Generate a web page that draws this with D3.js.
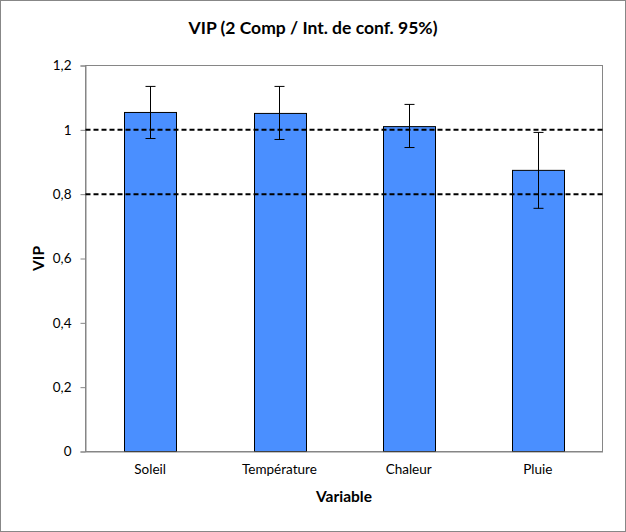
<!DOCTYPE html>
<html><head><meta charset="utf-8">
<script src="https://cdn.jsdelivr.net/npm/d3@7"></script>
<style>body{margin:0;background:#fff}svg{display:block}text{font-family:Lato,"Open Sans",sans-serif}</style>
</head><body>
<script>
const categories = ["Soleil", "Température", "Chaleur", "Pluie"];
const vipValues = [1.054, 1.051, 1.010, 0.874];
const ciLower = [0.973, 0.970, 0.945, 0.756];
const ciUpper = [1.135, 1.135, 1.079, 0.992];
const yTicks = [0, 0.2, 0.4, 0.6, 0.8, 1, 1.2];
const refLines = [0.8, 1];

const W = 626, H = 532;
const m = {left: 85.5, right: 602.5, top: 65.5, bottom: 451.5};
const svg = d3.select("body").append("svg").attr("width", W).attr("height", H);

svg.append("rect").attr("x", 0.5).attr("y", 0.5).attr("width", W - 1).attr("height", H - 1)
  .attr("fill", "#fff").attr("stroke", "#878787");

const x = d3.scaleBand().domain(categories).range([m.left, m.right]).paddingInner(0.6).paddingOuter(0.3);
const y = d3.scaleLinear().domain([0, 1.2]).range([m.bottom, m.top]);
const fmt = d => String(+d.toFixed(1)).replace(".", ",");

// plot frame
svg.append("rect").attr("x", m.left).attr("y", m.top).attr("width", m.right - m.left).attr("height", m.bottom - m.top)
  .attr("fill", "none").attr("stroke", "#868686");

// bars
svg.append("g").selectAll("rect").data(categories).join("rect")
  .attr("x", d => Math.round(x(d)) + 0.5)
  .attr("y", (d, i) => y(vipValues[i]))
  .attr("width", Math.round(x.bandwidth()))
  .attr("height", (d, i) => y(0) - y(vipValues[i]))
  .attr("fill", "#4A8FFF").attr("stroke", "#000").attr("stroke-width", 1);

// y axis
const yAxis = svg.append("g").attr("transform", `translate(${m.left},0)`)
  .call(d3.axisLeft(y).tickValues(yTicks).tickFormat(fmt).tickSize(5).tickPadding(9));
yAxis.select(".domain").attr("stroke", "#868686");
yAxis.selectAll(".tick line").attr("stroke", "#868686");
yAxis.selectAll("text").attr("font-size", 13.5).attr("fill", "#000").attr("font-family", "Lato");

// x axis
const xAxis = svg.append("g").attr("transform", `translate(0,${m.bottom})`)
  .call(d3.axisBottom(x).tickSize(0).tickPadding(13));
xAxis.select(".domain").attr("stroke", "#868686");
xAxis.selectAll("text").attr("font-size", 13.5).attr("fill", "#000").attr("font-family", "Lato");

// reference lines
svg.append("g").selectAll("line").data(refLines).join("line")
  .attr("x1", m.left).attr("x2", m.right)
  .attr("y1", d => y(d)).attr("y2", d => y(d))
  .attr("stroke", "#000").attr("stroke-width", 2).attr("stroke-dasharray", "5,3");

// error bars
const eb = svg.append("g").attr("stroke", "#000").attr("stroke-width", 1);
categories.forEach((c, i) => {
  const cx = Math.round(x(c) + x.bandwidth() / 2) + 0.5;
  eb.append("line").attr("x1", cx).attr("x2", cx).attr("y1", y(ciLower[i])).attr("y2", y(ciUpper[i]));
  [ciLower[i], ciUpper[i]].forEach(v => {
    eb.append("line").attr("x1", cx - 5).attr("x2", cx + 5).attr("y1", y(v)).attr("y2", y(v));
  });
});

// title
svg.append("text").attr("x", W / 2).attr("y", 34).attr("text-anchor", "middle")
  .attr("font-size", 17.5).attr("font-weight", "bold").text("VIP (2 Comp / Int. de conf. 95%)");
// axis titles
svg.append("text").attr("x", (m.left + m.right) / 2).attr("y", 502).attr("text-anchor", "middle")
  .attr("font-size", 15.5).attr("font-weight", "bold").text("Variable");
svg.append("text").attr("transform", `translate(44,${(m.top + m.bottom) / 2}) rotate(-90)`)
  .attr("text-anchor", "middle").attr("font-size", 15.5).attr("font-weight", "bold").text("VIP");
</script>
</body></html>
